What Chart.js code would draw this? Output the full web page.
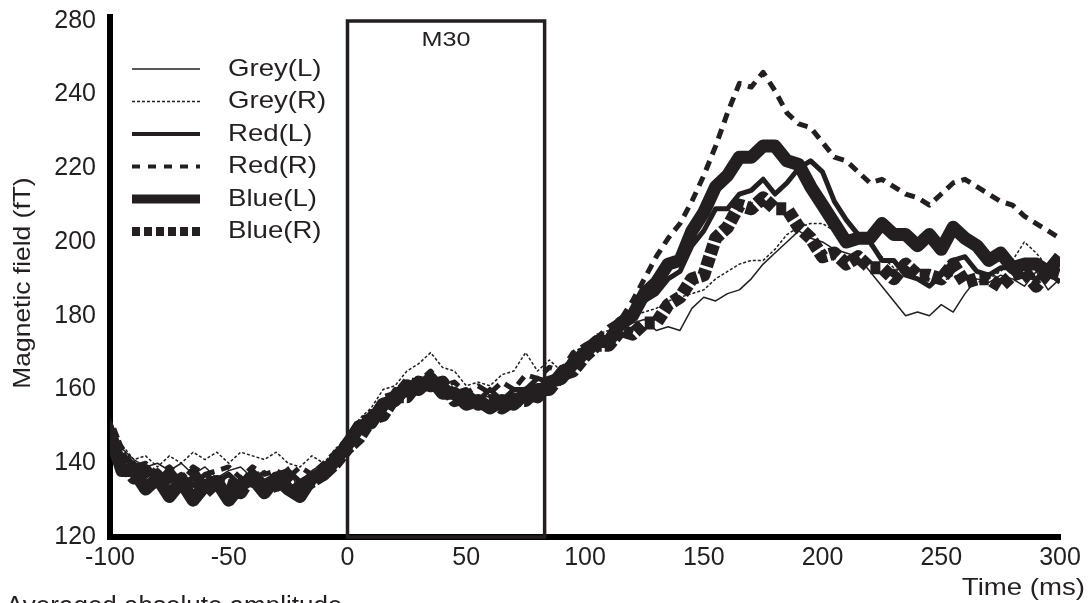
<!DOCTYPE html>
<html>
<head>
<meta charset="utf-8">
<title>Averaged absolute amplitude</title>
<script src="https://cdn.jsdelivr.net/npm/chart.js@4.4.1/dist/chart.umd.min.js"></script>
<style>
  html, body { margin: 0; padding: 0; background: #fff; }
  #wrap { width: 1089px; height: 603px; }
</style>
</head>
<body>
<div id="wrap"><canvas id="chart" width="1089" height="603"></canvas></div>
<script>
// Data (5 ms steps)

const times = [
  -100,-95,-90,-85,-80,-75,-70,-65,-60,-55,-50,-45,-40,-35,-30,-25,-20,-15,-10,-5,
  0,5,10,15,20,25,30,35,40,45,50,55,60,65,70,75,80,85,90,95,
  100,105,110,115,120,125,130,135,140,145,150,155,160,165,170,175,180,185,190,195,
  200,205,210,215,220,225,230,235,240,245,250,255,260,265,270,275,280,285,290,295,300
];

const greyL = [
  152,144,141,139,140,138,140,137,139,136,138,139,136,138,136,139,132,138,140,143,
  147,148,152,153,158,158,162,162,162,158,159,158,158,157,159,159,160,162,165,167,
  172,173,175,176,178,179,176,177,176,182,185,184,186,187,190,194,197,200,203,201,
  200,198,197,196,192,188,184,180,181,180,183,181,186,190,189,191,190,188,192,187,190
];

const greyR = [
  149,145,141,142,139,142,140,143,141,143,140,143,142,141,143,140,139,142,140,144,
  147,152,155,160,161,165,167,170,166,165,161,162,161,164,165,170,165,168,165,170,
  172,175,176,178,180,181,182,184,185,186,187,190,192,194,195,195,198,202,204,205,
  205,203,201,202,199,196,193,191,193,190,189,191,190,189,190,192,195,200,197,193,196
];

const redL = [
  151,141,140,137,138,135,137,134,137,135,137,134,138,135,137,138,135,137,139,142,
  146,149,154,155,160,160,163,162,162,159,160,157,160,157,160,160,163,162,166,167,
  171,174,174,178,180,184,186,190,192,199,203,209,209,213,214,217,213,216,220,222,
  219,211,206,202,200,195,195,191,190,188,191,195,196,192,191,193,193,191,190,192,189
];

const redR = [
  150,144,139,140,137,139,136,139,137,138,139,136,139,137,138,136,139,137,140,143,
  147,152,153,158,159,163,162,165,161,162,159,161,159,162,160,164,163,166,165,170,
  172,174,177,179,184,190,196,201,205,211,218,226,235,243,242,246,241,235,232,231,
  227,223,222,219,216,217,215,213,212,210,213,216,217,215,213,211,210,207,205,203,201
];

const blueL = [
  148,138,138,133,136,131,135,130,134,135,130,134,136,132,136,133,131,136,137,141,
  145,150,151,156,157,161,160,163,159,159,156,157,155,157,156,159,158,162,163,167,
  170,173,173,178,180,186,189,194,195,203,208,215,218,223,223,226,226,222,221,215,
  210,205,200,201,201,205,202,202,199,202,198,204,201,199,195,197,193,194,194,192,196
];

const blueR = [
  149,141,136,138,133,137,133,137,132,135,134,132,137,133,134,136,133,135,137,140,
  144,147,152,153,158,158,162,161,162,157,158,156,157,155,157,157,160,160,164,165,
  169,172,172,176,175,178,178,183,185,190,191,201,204,210,209,212,209,209,204,201,
  196,197,194,196,193,193,190,194,191,191,190,194,189,190,190,188,191,192,188,192,191
];

const seriesLabels = ['Grey(L)', 'Grey(R)', 'Red(L)', 'Red(R)', 'Blue(L)', 'Blue(R)'];
const seriesValues = [greyL, greyR, redL, redR, blueL, blueR];

const yTickValues = [120, 140, 160, 180, 200, 220, 240, 260];
const yTickLabels = ['120', '140', '160', '180', '200', '220', '240', '280'];

const xTickValues = [-100, -50, 0, 50, 100, 150, 200, 250, 300];

const boxStart = 0;   // M30 window (ms)
const boxEnd = 83;

// Styles

const INK = '#231f20';
const FONT = '"Liberation Sans", Arial, sans-serif';

const lineStyles = [
  { width: 1.5, dash: [],      legendWidth: 1.3, legendDash: [] },
  { width: 1.5, dash: [3, 2],  legendWidth: 1.3, legendDash: [3, 2] },
  { width: 5,   dash: [],      legendWidth: 4,   legendDash: [] },
  { width: 5,   dash: [10, 7], legendWidth: 4,   legendDash: [8, 8] },
  { width: 13,  dash: [],      legendWidth: 9,   legendDash: [] },
  { width: 13,  dash: [10, 3], legendWidth: 9,   legendDash: [8, 4] }
];

const datasets = seriesLabels.map((label, i) => ({
  label,
  data: times.map((t, j) => ({ x: t, y: seriesValues[i][j] })),
  borderColor: INK,
  borderWidth: lineStyles[i].width,
  borderDash: lineStyles[i].dash,
  borderCapStyle: 'butt',
  borderJoinStyle: 'round',
  pointRadius: 0,
  tension: 0,
  fill: false
}));

// Helpers

function drawText(ctx, text, x, y, size, align, sx, rot) {
  ctx.save();
  ctx.translate(x, y);
  if (rot) ctx.rotate(rot);
  ctx.scale(sx || 1, 1);
  ctx.font = `${size}px ${FONT}`;
  ctx.fillStyle = INK;
  ctx.textAlign = align;
  ctx.textBaseline = 'middle';
  ctx.fillText(text, 0, 0);
  ctx.restore();
}

// Plugin: M30 box, legend and loose labels

const decorations = {
  id: 'decorations',
  beforeDatasetsDraw(chart) {
    const { ctx, scales: { x }, chartArea } = chart;
    const x0 = x.getPixelForValue(boxStart);
    const x1 = x.getPixelForValue(boxEnd);
    const top = 21;
    ctx.save();
    ctx.strokeStyle = INK;
    ctx.lineWidth = 3.5;
    ctx.strokeRect(x0, top, x1 - x0, chartArea.bottom - top);
    ctx.restore();
    drawText(ctx, 'M30', (x0 + x1) / 2, 40, 21, 'center', 1.2);
  },
  afterDraw(chart) {
    const { ctx } = chart;

    // legend
    seriesLabels.forEach((label, i) => {
      const yy = 69 + i * 32.5;
      ctx.save();
      ctx.strokeStyle = INK;
      ctx.lineWidth = lineStyles[i].legendWidth;
      ctx.lineCap = 'butt';
      ctx.setLineDash(lineStyles[i].legendDash);
      ctx.beginPath();
      ctx.moveTo(132, yy);
      ctx.lineTo(200, yy);
      ctx.stroke();
      ctx.restore();
      drawText(ctx, label, 228, yy, 24, 'left', 1.15);
    });

    // axis titles
    drawText(ctx, 'Magnetic field (fT)', 23, 283, 24, 'center', 1.1, -Math.PI / 2);
    drawText(ctx, 'Time (ms)', 1085, 588, 24, 'right', 1.15);
    ctx.save();
    ctx.font = `26px ${FONT}`;
    ctx.fillStyle = INK;
    ctx.textAlign = 'left';
    ctx.textBaseline = 'alphabetic';
    ctx.fillText('Averaged absolute amplitude', 6, 614);
    ctx.restore();
  }
};

// Chart

new Chart(document.getElementById('chart'), {
  type: 'line',
  data: { datasets },
  options: {
    responsive: false,
    animation: false,
    events: [],
    layout: { padding: { top: 17, right: 29, left: 0, bottom: 0 } },
    plugins: { legend: { display: false }, tooltip: { enabled: false } },
    scales: {
      x: {
        type: 'linear',
        min: -100,
        max: 300,
        afterFit: s => { s.height = 66; },
        afterBuildTicks: s => { s.ticks = xTickValues.map(v => ({ value: v })); },
        grid: { display: false, drawTicks: false },
        border: { display: true, color: '#000', width: 6 },
        ticks: { color: INK, font: { family: FONT, size: 25 }, padding: 6, maxRotation: 0 }
      },
      y: {
        type: 'linear',
        min: 120,
        max: 261,
        afterFit: s => { s.width = 110; s.paddingTop = 0; s.paddingBottom = 0; },
        afterBuildTicks: s => { s.ticks = yTickValues.map(v => ({ value: v })); },
        grid: { display: false, drawTicks: false },
        border: { display: true, color: '#000', width: 6 },
        ticks: {
          color: INK,
          font: { family: FONT, size: 25 },
          padding: 14,
          callback: v => yTickLabels[yTickValues.indexOf(v)]
        }
      }
    }
  },
  plugins: [decorations]
});
</script>
</body>
</html>
